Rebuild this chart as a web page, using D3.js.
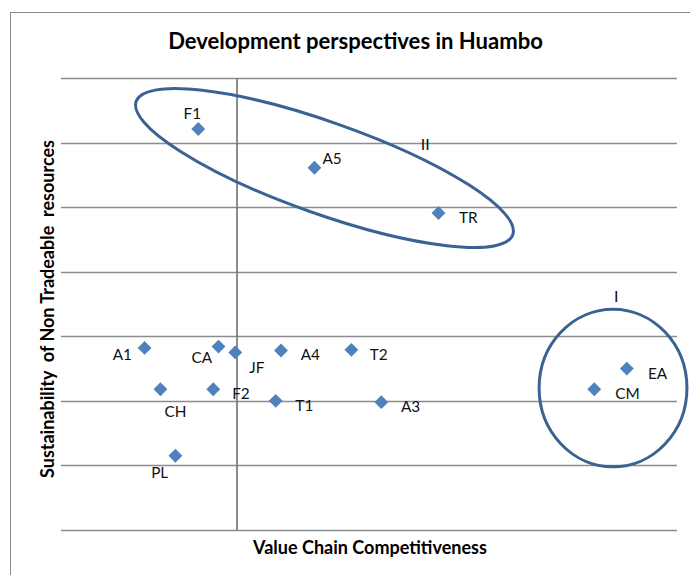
<!DOCTYPE html>
<html><head><meta charset="utf-8">
<script src="https://cdn.jsdelivr.net/npm/d3@7"></script>
<style>body{margin:0;background:#fff}svg{display:block}text{font-family:Lato,"Open Sans",sans-serif}</style>
</head><body>
<script>
const labels = ["F1","A5","TR","A1","CA","JF","A4","CH","F2","T1","PL","T2","A3","EA","CM"];
const xValues = [-0.44,0.88,2.29,-1.05,-0.21,-0.02,0.50,-0.87,-0.27,0.44,-0.70,1.30,1.64,4.43,4.06];
const yValues = [6.21,5.61,4.91,2.82,2.84,2.75,2.78,2.18,2.18,2.00,1.15,2.79,1.98,2.50,2.18];
const yTicks = [0,1,2,3,4,5,6,7];
const groupNames = ["II","I"];

const W=690,H=575;
const svg=d3.select("body").append("svg").attr("width",W).attr("height",H);
svg.append("rect").attr("x",10.5).attr("y",12.5).attr("width",700).attr("height",600)
  .attr("fill","#fff").attr("stroke","#8a8a8a").attr("stroke-width",1);

const x=d3.scaleLinear().domain([-2,5]).range([61,677]);
const y=d3.scaleLinear().domain([0,7]).range([530,78]);

// fit a text element's font size so it spans a target width
function fit(sel,base,target){
  sel.attr("font-size",base);
  const w=sel.node().getComputedTextLength();
  sel.attr("font-size",base*target/w);
  return sel;
}

// gridlines
svg.append("g").selectAll("line").data(yTicks).join("line")
  .attr("x1",x(-2)).attr("x2",x(5)).attr("y1",d=>Math.round(y(d))+0.5).attr("y2",d=>Math.round(y(d))+0.5)
  .attr("stroke","#8c8c8c").attr("stroke-width",1.3);
// vertical axis at x=0
svg.append("line").attr("x1",x(0)).attr("x2",x(0)).attr("y1",y(7)).attr("y2",y(0))
  .attr("stroke","#808080").attr("stroke-width",1.8);

// title & axis labels
fit(svg.append("text").attr("x",355.5).attr("y",48.5).attr("text-anchor","middle")
  .attr("font-weight","bold").text("Development perspectives in Huambo"),18,375);
fit(svg.append("text").attr("x",370).attr("y",554).attr("text-anchor","middle")
  .attr("font-weight","bold").text("Value Chain Competitiveness"),14,234);
fit(svg.append("text").attr("transform",`translate(54,309) rotate(-90)`).attr("text-anchor","middle")
  .attr("font-weight","bold").style("white-space","pre")
  .text("Sustainability  of Non Tradeable  resources"),14,338);

// group annotations
const ann=svg.append("g").attr("fill","none").attr("stroke","#3a6293").attr("stroke-width",3);
const cII=[0.994,5.606];
ann.append("ellipse").attr("cx",0).attr("cy",0)
  .attr("rx",x(cII[0]+2.27)-x(cII[0])).attr("ry",y(0)-y(0.71))
  .attr("transform",`translate(${x(cII[0])},${y(cII[1])}) rotate(19.5)`);
const cI=[4.273,2.199];
ann.append("ellipse").attr("cx",x(cI[0])).attr("cy",y(cI[1]))
  .attr("rx",x(cI[0]+0.84)-x(cI[0])).attr("ry",y(0)-y(1.22));
svg.append("text").attr("x",x(2.14)).attr("y",y(5.98)).attr("text-anchor","middle").attr("dominant-baseline","central")
  .attr("font-size",16).attr("fill","#111").text(groupNames[0]);
svg.append("text").attr("x",x(4.31)).attr("y",y(3.63)).attr("text-anchor","middle").attr("dominant-baseline","central")
  .attr("font-size",16).attr("fill","#111").text(groupNames[1]);

// points
const pts=labels.map((l,i)=>({l,x:xValues[i],y:yValues[i]}));
const sq=d3.symbol().type(d3.symbolSquare).size(96);
svg.append("g").selectAll("path").data(pts).join("path")
  .attr("d",sq).attr("fill","#4f81bd")
  .attr("transform",d=>`translate(${x(d.x)},${y(d.y)}) rotate(45)`);

// label font size matched to reference width of "CM"
const probe=svg.append("text").text("CM");
fit(probe,15,24.5);
const lfs=+probe.attr("font-size"); probe.remove();

const off={F1:[-6,-15.7],A5:[17.7,-10],TR:[29.7,3.7],A1:[-22.3,5.6],CA:[-16.7,10],JF:[21.7,15],A4:[29.3,4],
  CH:[15,22],F2:[27.7,3.3],T1:[28.6,4],PL:[-15.7,16],T2:[27.3,3.7],A3:[29.3,4],EA:[30.7,4.3],CM:[33.3,4]};
svg.append("g").selectAll("text").data(pts).join("text")
  .attr("x",d=>x(d.x)+off[d.l][0]).attr("y",d=>y(d.y)+off[d.l][1])
  .attr("text-anchor","middle").attr("dominant-baseline","central")
  .attr("font-size",lfs).attr("fill","#111").text(d=>d.l);
</script>
</body></html>
